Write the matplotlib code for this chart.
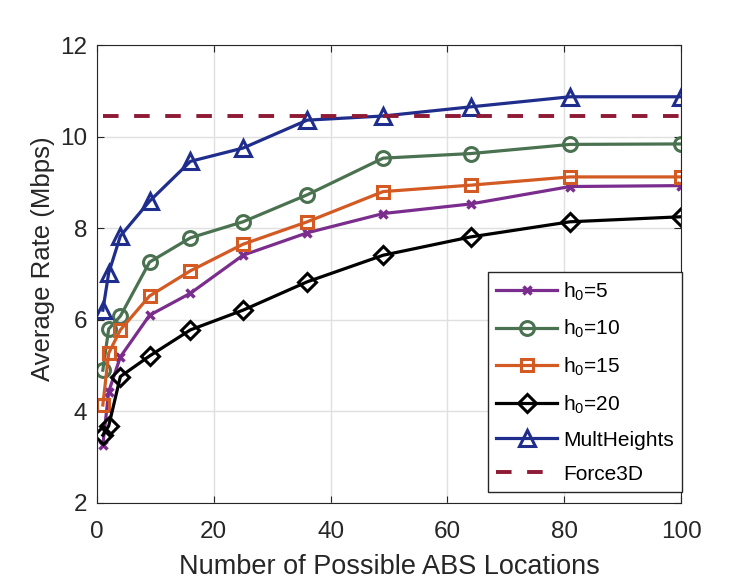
import matplotlib
matplotlib.use("Agg")
import matplotlib.pyplot as plt

plt.rcParams['font.family'] = ['Liberation Sans', 'DejaVu Sans']
plt.rcParams['mathtext.fontset'] = 'custom'
plt.rcParams['mathtext.rm'] = 'Liberation Sans'

x = [1, 2, 4, 9, 16, 25, 36, 49, 64, 81, 100]
h5 = [3.27, 4.43, 5.19, 6.10, 6.58, 7.41, 7.90, 8.32, 8.53, 8.91, 8.93]
h10 = [4.90, 5.80, 6.08, 7.26, 7.79, 8.14, 8.73, 9.53, 9.63, 9.83, 9.84]
h15 = [4.14, 5.27, 5.78, 6.52, 7.07, 7.65, 8.14, 8.80, 8.94, 9.12, 9.12]
h20 = [3.48, 3.68, 4.76, 5.21, 5.78, 6.21, 6.83, 7.41, 7.81, 8.14, 8.25]
mult = [6.21, 7.02, 7.83, 8.59, 9.46, 9.75, 10.36, 10.45, 10.65, 10.87, 10.87]
force3d = [10.45] * len(x)

fig = plt.figure(figsize=(7.52, 5.81), dpi=100)
ax = fig.add_axes([0.129, 0.1343, 0.7766, 0.7882])

lw = 2.3
ax.plot(x, h5, color='#7B2D8E', lw=lw, marker='x', ms=6, mew=2.5, label='h$_0$=5')
ax.plot(x, h10, color='#4A7250', lw=lw, marker='o', ms=10, mew=2.2, mfc='none', label='h$_0$=10')
ax.plot(x, h15, color='#D35A22', lw=lw, marker='s', ms=9, mew=2.2, mfc='none', label='h$_0$=15')
ax.plot(x, h20, color='black', lw=lw, marker='D', ms=9, mew=2.2, mfc='none', label='h$_0$=20')
ax.plot(x, mult, color='#1F2D8C', lw=lw, marker='^', ms=11, mew=2.2, mfc='none', label='MultHeights')
ax.plot(x, force3d, color='#8E1A35', lw=lw + 0.5, ls=(0, (4, 4)), label='Force3D')

ax.set_xlim(0, 100)
ax.set_ylim(2, 12)
ax.set_xticks([0, 20, 40, 60, 80, 100])
ax.set_yticks([2, 4, 6, 8, 10, 12])
ax.grid(True, color='#E0E0E0', lw=1)
ax.set_axisbelow(True)
ax.tick_params(direction='in', labelsize=17.5, length=5, colors='#262626', top=True, right=True)
ax.tick_params(axis='x', pad=13)
ax.tick_params(axis='y', pad=7)
for s in ax.spines.values():
    s.set_color('#262626')
ax.set_xlabel('Number of Possible ABS Locations', fontsize=19.5, color='#262626', labelpad=8)
ax.set_ylabel('Average Rate (Mbps)', fontsize=18.5, color='#262626', labelpad=8)
ax.yaxis.set_label_coords(-0.072, 0.533)

leg = ax.legend(loc='lower right', bbox_to_anchor=(1.002, 0.024), fontsize=15,
                fancybox=False, framealpha=1, edgecolor='#262626', handlelength=2.9,
                handletextpad=0.3, borderpad=0.4, labelspacing=0.72, borderaxespad=0)
leg.get_frame().set_linewidth(1)

fig.savefig('out.png', dpi=100)
